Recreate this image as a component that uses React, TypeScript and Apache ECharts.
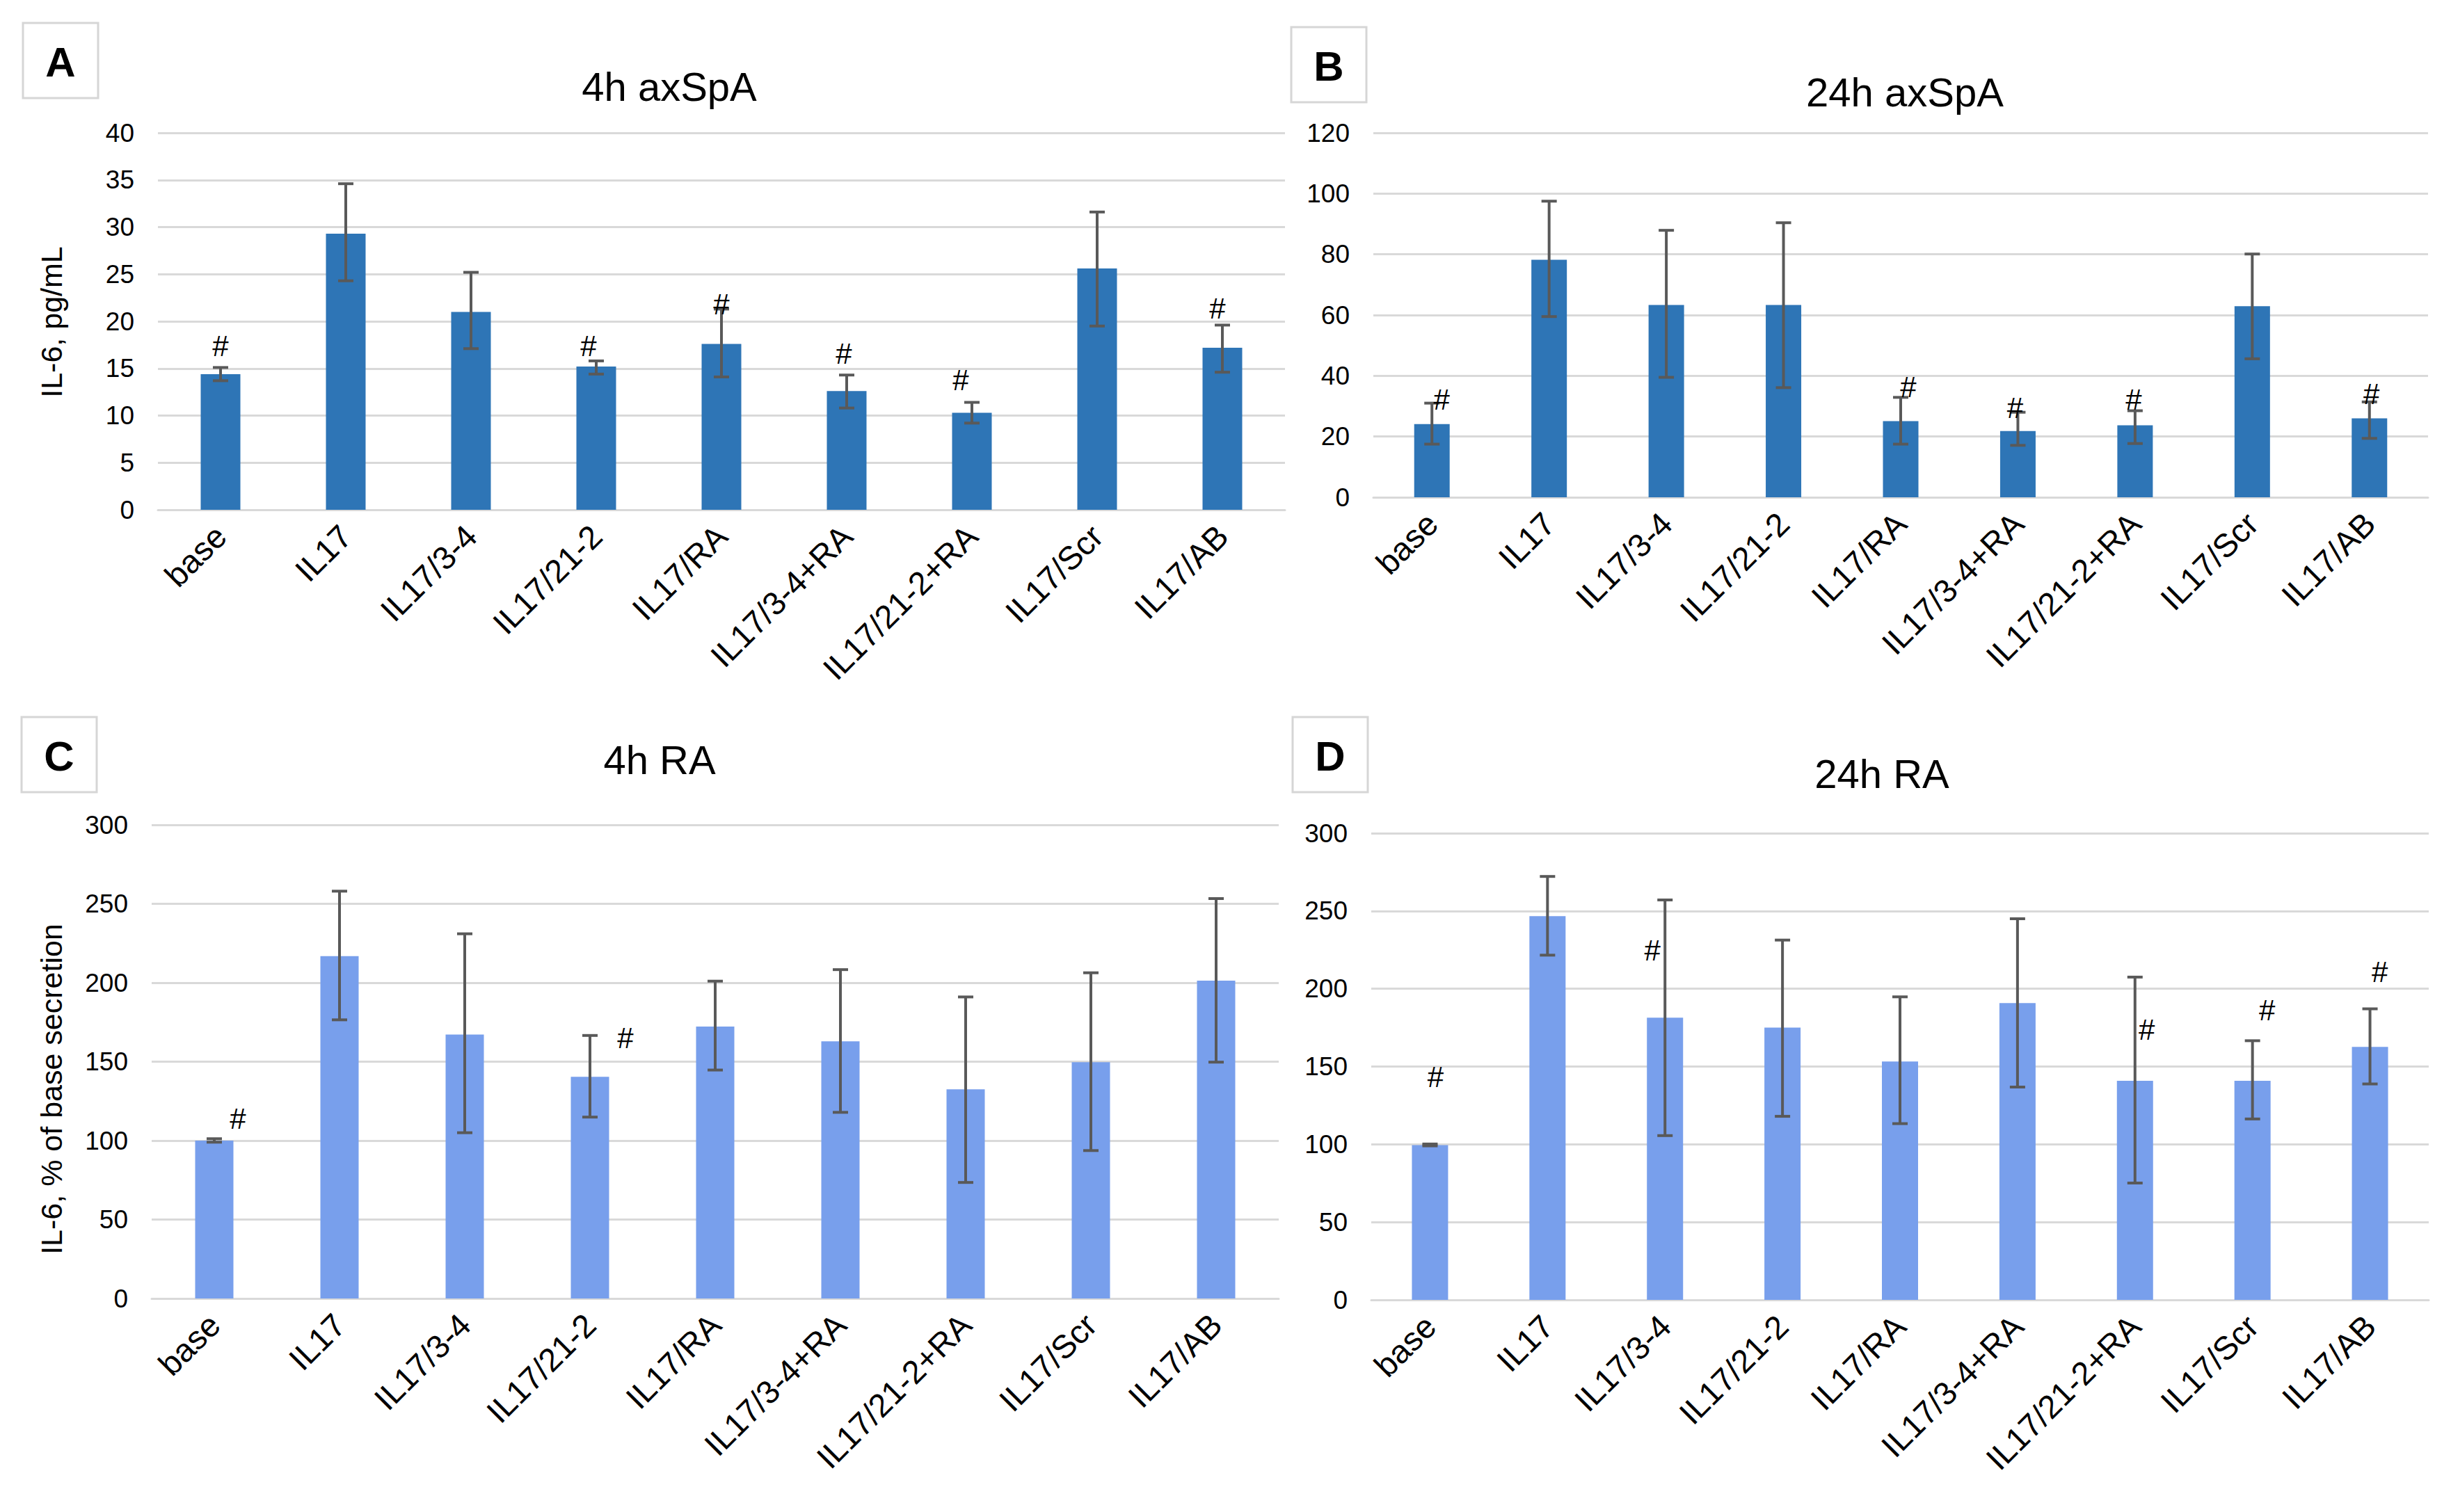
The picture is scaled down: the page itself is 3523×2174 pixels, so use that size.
import React, { useEffect, useRef } from "react";
import * as echarts from "echarts";

const categories = ["base", "IL17", "IL17/3-4", "IL17/21-2", "IL17/RA", "IL17/3-4+RA", "IL17/21-2+RA", "IL17/Scr", "IL17/AB"];

const titles = ["4h axSpA", "24h axSpA", "4h RA", "24h RA"];
const panelLetters = ["A", "B", "C", "D"];
const yTitles = ["IL-6, pg/mL", "IL-6, % of base secretion"];

const aMean = [14.4, 29.3, 21.0, 15.2, 17.6, 12.6, 10.3, 25.6, 17.2];
const aLow = [13.7, 24.3, 17.1, 14.4, 14.1, 10.8, 9.2, 19.5, 14.6];
const aHigh = [15.1, 34.6, 25.2, 15.8, 21.3, 14.3, 11.4, 31.6, 19.6];
const aHash = [17.4, null, null, 17.4, 21.8, 16.6, 13.8, null, 21.4];

const bMean = [24.1, 78.2, 63.3, 63.3, 25.1, 21.8, 23.7, 62.9, 26.0];
const bLow = [17.5, 59.5, 39.5, 36.1, 17.5, 17.1, 17.7, 45.6, 19.4];
const bHigh = [31.0, 97.5, 87.9, 90.4, 32.9, 28.0, 28.5, 80.1, 31.4];
const bHash = [32.1, null, null, null, 36.2, 29.5, 32.1, null, 34.1];

const cMean = [100, 216.9, 167.2, 140.4, 172.2, 162.9, 132.5, 149.7, 201.3];
const cLow = [99, 176.5, 105, 114.9, 144.7, 117.9, 73.5, 93.7, 149.7];
const cHigh = [101.2, 258, 231, 166.6, 201, 208.3, 191, 206.3, 253.3];
const cHash = [113.7, null, null, 165, null, null, null, null, null];

const dMean = [99.5, 246.7, 181.4, 175, 153.2, 190.8, 140.8, 140.8, 162.6];
const dLow = [99, 221.6, 105.6, 118, 113.3, 136.8, 75.1, 116.3, 138.8];
const dHigh = [100.2, 272.2, 257.1, 231.3, 194.8, 245, 207.5, 166.6, 187.1];
const dHash = [143.5, null, 224.8, null, null, null, 173.5, 186.4, 210.6];

const yMax = [40, 120, 300, 300];
const yStep = [5, 20, 50, 50];

// layout (pixels) — kept separate from data
const grids = [
  { left: 227, top: 191, width: 1620, height: 542 },
  { left: 1974, top: 191, width: 1516, height: 524 },
  { left: 218, top: 1186, width: 1620, height: 681 },
  { left: 1971, top: 1198, width: 1520, height: 671 },
];
const barWidths = [57, 51, 55, 52];
const hashShift = [
  [0, 0, 0, -11, 0, -4, -16, 0, -7],
  [14, 0, 0, 0, 11, -4, -2, 0, 3],
  [34, 0, 0, 51, 0, 0, 0, 0, 0],
  [8, 0, -18, 0, 0, 0, 17, 21, 14],
];
const titlePos = [
  [962, 124],
  [2738, 132],
  [948, 1092],
  [2705, 1112],
];
const boxPos = [
  [33, 33],
  [1856, 39],
  [31, 1031],
  [1858, 1031],
];
const yTitlePos = [
  [74, 463],
  [74, 1566],
];

const FONT = "'Liberation Sans', Arial, Helvetica, sans-serif";
const darkBlue = "#2E75B6";
const lightBlue = "#789FEC";
const gridColor = "#D9D9D9";
const errColor = "#595959";

export default function App() {
  const ref = useRef<HTMLDivElement>(null);

  useEffect(() => {
    document.body.style.margin = "0";
    if (!ref.current) return;
    const chart = echarts.init(ref.current, undefined, { renderer: "svg" });

    const means = [aMean, bMean, cMean, dMean];
    const lows = [aLow, bLow, cLow, dLow];
    const highs = [aHigh, bHigh, cHigh, dHigh];
    const hashes = [aHash, bHash, cHash, dHash];
    const colors = [darkBlue, darkBlue, lightBlue, lightBlue];

    const xAxis: any[] = [];
    const yAxis: any[] = [];
    const series: any[] = [];

    for (let p = 0; p < 4; p++) {
      xAxis.push({
        type: "category",
        gridIndex: p,
        data: categories,
        axisLine: { show: true, lineStyle: { color: gridColor, width: 3 } },
        axisTick: { show: false },
        axisLabel: {
          rotate: 45,
          interval: 0,
          margin: 30,
          fontSize: 47,
          color: "#000",
          fontFamily: FONT,
        },
      });
      yAxis.push({
        type: "value",
        gridIndex: p,
        min: 0,
        max: yMax[p],
        interval: yStep[p],
        axisLine: { show: false },
        axisTick: { show: false },
        axisLabel: { fontSize: 37, color: "#000", margin: 34, fontFamily: FONT },
        splitLine: { show: true, lineStyle: { color: gridColor, width: 3 } },
      });
      series.push({
        type: "bar",
        xAxisIndex: p,
        yAxisIndex: p,
        data: means[p],
        barWidth: barWidths[p],
        itemStyle: { color: colors[p] },
        silent: true,
      });
      const errData = categories.map((_, i) => [i, lows[p][i], highs[p][i]]);
      series.push({
        type: "custom",
        xAxisIndex: p,
        yAxisIndex: p,
        data: errData,
        encode: { x: 0, y: [1, 2] },
        silent: true,
        z: 5,
        renderItem: (params: any, api: any) => {
          const x = api.value(0);
          const lo = api.coord([x, api.value(1)]);
          const hi = api.coord([x, api.value(2)]);
          const cap = 11;
          const st = { stroke: errColor, lineWidth: 4 };
          return {
            type: "group",
            children: [
              { type: "line", shape: { x1: lo[0], y1: lo[1], x2: hi[0], y2: hi[1] }, style: st },
              { type: "line", shape: { x1: lo[0] - cap, y1: lo[1], x2: lo[0] + cap, y2: lo[1] }, style: st },
              { type: "line", shape: { x1: hi[0] - cap, y1: hi[1], x2: hi[0] + cap, y2: hi[1] }, style: st },
            ],
          };
        },
      });
      const hashData: any[] = [];
      hashes[p].forEach((v, i) => {
        if (v !== null) hashData.push([i, v, hashShift[p][i]]);
      });
      series.push({
        type: "custom",
        xAxisIndex: p,
        yAxisIndex: p,
        data: hashData,
        encode: { x: 0, y: 1 },
        silent: true,
        z: 6,
        renderItem: (params: any, api: any) => {
          const pt = api.coord([api.value(0), api.value(1)]);
          return {
            type: "text",
            x: pt[0] + api.value(2),
            y: pt[1],
            style: {
              text: "#",
              fontSize: 42,
              fontFamily: FONT,
              fill: "#000",
              align: "center",
              verticalAlign: "middle",
            },
          };
        },
      });
    }

    const graphic: any[] = [];
    for (let p = 0; p < 4; p++) {
      graphic.push({
        type: "rect",
        shape: { x: boxPos[p][0], y: boxPos[p][1], width: 108, height: 108 },
        style: { fill: "#fff", stroke: "#D6D6D6", lineWidth: 3 },
      });
      graphic.push({
        type: "text",
        x: boxPos[p][0] + 54,
        y: boxPos[p][1] + 56,
        style: {
          text: panelLetters[p],
          fontSize: 60,
          fontWeight: "bold",
          fontFamily: FONT,
          fill: "#000",
          align: "center",
          verticalAlign: "middle",
        },
      });
      graphic.push({
        type: "text",
        x: titlePos[p][0],
        y: titlePos[p][1],
        style: {
          text: titles[p],
          fontSize: 58,
          fontFamily: FONT,
          fill: "#000",
          align: "center",
          verticalAlign: "middle",
        },
      });
    }
    for (let k = 0; k < 2; k++) {
      graphic.push({
        type: "text",
        x: yTitlePos[k][0],
        y: yTitlePos[k][1],
        rotation: Math.PI / 2,
        style: {
          text: yTitles[k],
          fontSize: 43,
          fontFamily: FONT,
          fill: "#000",
          align: "center",
          verticalAlign: "middle",
        },
      });
    }

    chart.setOption({
      animation: false,
      backgroundColor: "#fff",
      grid: grids.map((g) => ({ ...g, containLabel: false })),
      xAxis,
      yAxis,
      series,
      graphic,
    });

    return () => chart.dispose();
  }, []);

  return <div ref={ref} style={{ width: 3523, height: 2174 }} />;
}
